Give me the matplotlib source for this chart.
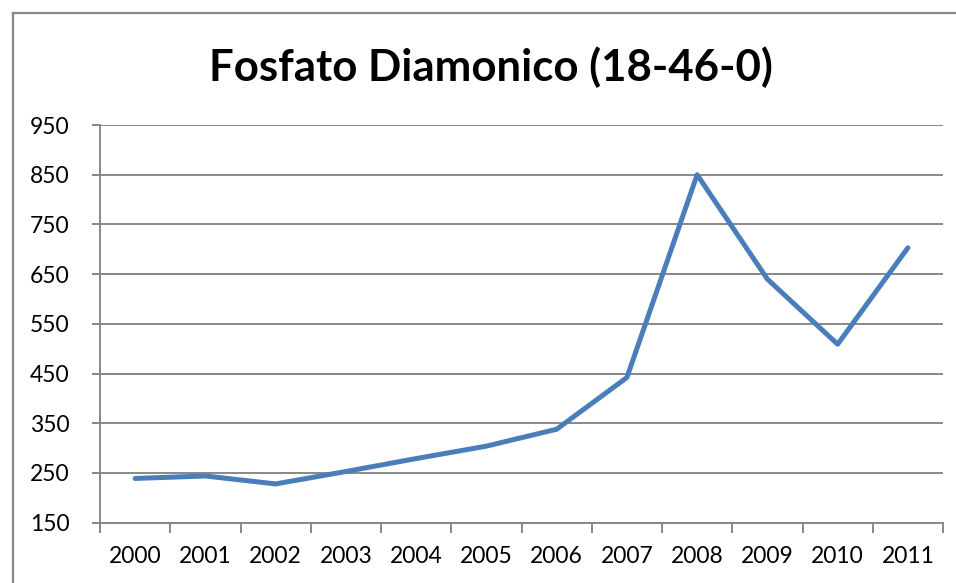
import numpy as np
import matplotlib.pyplot as plt
from matplotlib.lines import Line2D

years = ['2000', '2001', '2002', '2003', '2004', '2005',
         '2006', '2007', '2008', '2009', '2010', '2011']
prices = [239, 244, 228, 253, 279, 304, 338, 442, 850, 640, 509, 703]
y_ticks = [150, 250, 350, 450, 550, 650, 750, 850, 950]

plt.rcParams['font.family'] = ['Lato', 'DejaVu Sans']
gray = '#888888'

fig = plt.figure(figsize=(9.56, 5.83), dpi=100)
ax = fig.add_axes([100/956, 1 - 522.7/583, 843/956, (522.7 - 125)/583])

x = np.arange(len(years))
ax.plot(x, prices, color='#4a7ebb', linewidth=3.6, solid_joinstyle='round',
        solid_capstyle='round', zorder=3)

ax.set_xlim(-0.5, len(years) - 0.5)
ax.set_ylim(y_ticks[0], y_ticks[-1])
ax.set_yticks(y_ticks)
ax.set_yticklabels([str(v) for v in y_ticks], fontsize=16.5)
ax.yaxis.grid(True, color=gray, linewidth=1.4)
ax.set_axisbelow(True)

# category boundaries get tick marks, labels sit in the middle
ax.set_xticks(np.arange(-0.5, len(years), 1.0))
ax.set_xticklabels([])
ax.set_xticks(x, minor=True)
ax.set_xticklabels(years, minor=True, fontsize=16.5)
ax.tick_params(axis='x', which='major', length=7, width=1.4, color=gray)
ax.tick_params(axis='x', which='minor', length=0, pad=17)
ax.tick_params(axis='y', length=6, width=1.4, color=gray, pad=16)

for s in ['top', 'right']:
    ax.spines[s].set_visible(False)
for s in ['left', 'bottom']:
    ax.spines[s].set_color(gray)
    ax.spines[s].set_linewidth(1.4)

fig.text(491/956, 1 - 67/583, 'Fosfato Diamonico (18-46-0)', fontsize=31.5,
         fontweight='bold', ha='center', va='center')

# chart area border (left and top edges visible)
fig.add_artist(Line2D([12.5/956, 12.5/956], [0, 1 - 13/583], color=gray, linewidth=1.6))
fig.add_artist(Line2D([12.5/956, 1], [1 - 13/583, 1 - 13/583], color=gray, linewidth=1.6))

fig.savefig('out.png', dpi=100)
